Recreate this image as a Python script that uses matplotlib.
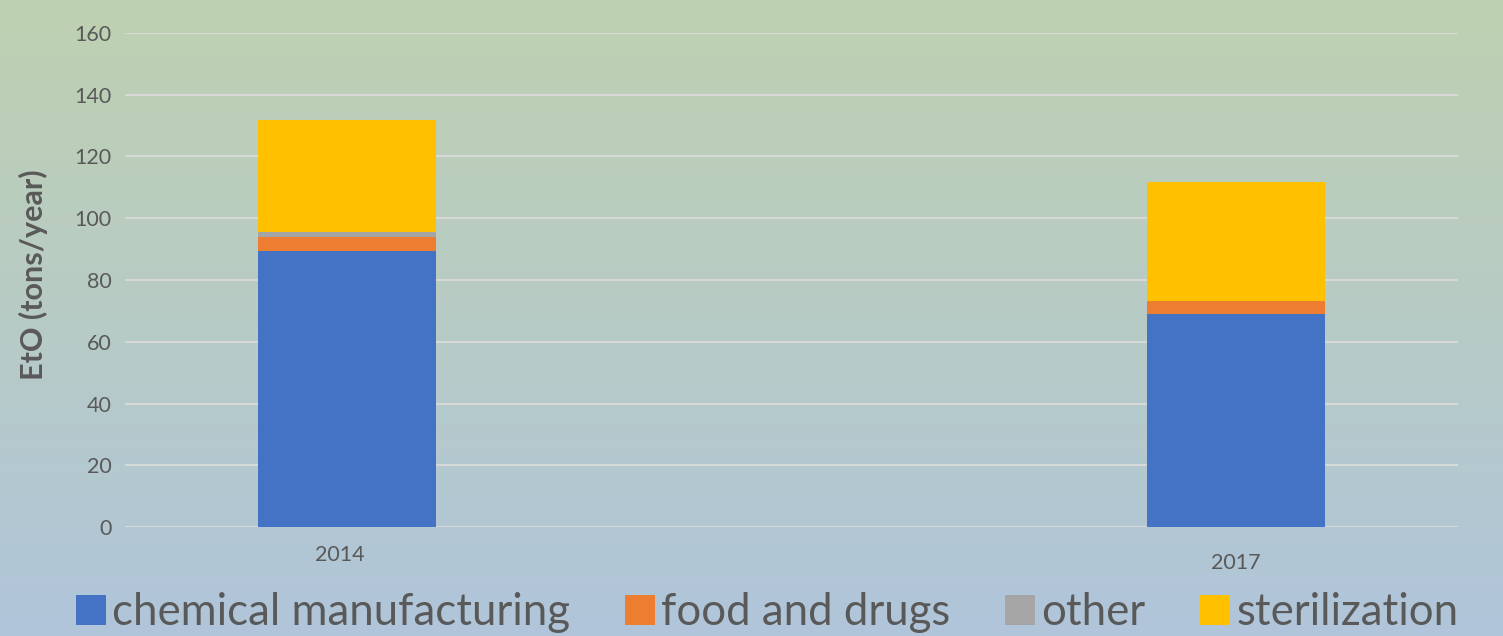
import matplotlib.pyplot as plt
import numpy as np
from matplotlib.colors import LinearSegmentedColormap
from matplotlib.transforms import offset_copy

years = [2014, 2017]
year_labels = ["2014", "2017"]
chemical = [89.4, 69.1]
food_drugs = [4.5, 4.1]
other = [1.6, 0.0]
sterilization = [36.3, 38.5]

series = [
    ("chemical manufacturing", chemical, "#4472C4"),
    ("food and drugs", food_drugs, "#ED7D31"),
    ("other", other, "#A5A5A5"),
    ("sterilization", sterilization, "#FFC000"),
]

plt.rcParams['font.family'] = ['Lato', 'DejaVu Sans']
text_col = "#595959"

fig = plt.figure(figsize=(15.03, 6.36), dpi=100)

# background gradient, green at top to blue at bottom
bg = fig.add_axes([0, 0, 1, 1], zorder=-10)
cmap = LinearSegmentedColormap.from_list("bg", ["#BED1B1", "#B0C5DA"])
bg.imshow(np.linspace(0, 1, 256).reshape(-1, 1), aspect="auto", cmap=cmap,
          extent=[0, 1, 0, 1])
bg.axis("off")

ax = fig.add_axes([125 / 1503, 1 - 527 / 636, (1458 - 125) / 1503, (527 - 33) / 636])
ax.patch.set_alpha(0)

bottom = np.zeros(len(years))
handles = []
for name, vals, col in series:
    h = ax.bar(years, vals, width=0.6, bottom=bottom, color=col, label=name, zorder=3)
    handles.append(h)
    bottom += np.array(vals)

ax.set_xlim(2013.25, 2017.75)
ax.set_ylim(0, 160)
ax.set_yticks(np.arange(0, 161, 20))
ax.grid(axis="y", color="#D9D9D9", linewidth=1.4, zorder=0)
ax.tick_params(axis="y", length=0, pad=9.5, labelsize=15.5, labelcolor=text_col)
ax.set_xticks([])
for s in ax.spines.values():
    s.set_visible(False)

# year labels (2017 sits a bit lower in the original), offsets in points
label_shift = [(-5, -13), (0, -19)]
for x, lab, (dx, dy) in zip(years, year_labels, label_shift):
    tr = offset_copy(ax.get_xaxis_transform(), fig=fig, x=dx, y=dy, units="points")
    ax.text(x, 0, lab, transform=tr, ha="center", va="top",
            fontsize=15.5, color=text_col)

ax.set_ylabel("EtO (tons/year)", fontsize=22, fontweight="bold", color=text_col)
ax.yaxis.set_label_coords(-0.058, 0.51)

leg = fig.legend(handles=handles, loc="lower left", bbox_to_anchor=(76 / 1503, 0.004), ncol=4,
                 frameon=False, fontsize=31.5, handlelength=0.68, handleheight=0.68,
                 handletextpad=0.15, columnspacing=1.25, borderpad=0, borderaxespad=0,
                 labelcolor=text_col)

fig.savefig("out.png", dpi=100)
